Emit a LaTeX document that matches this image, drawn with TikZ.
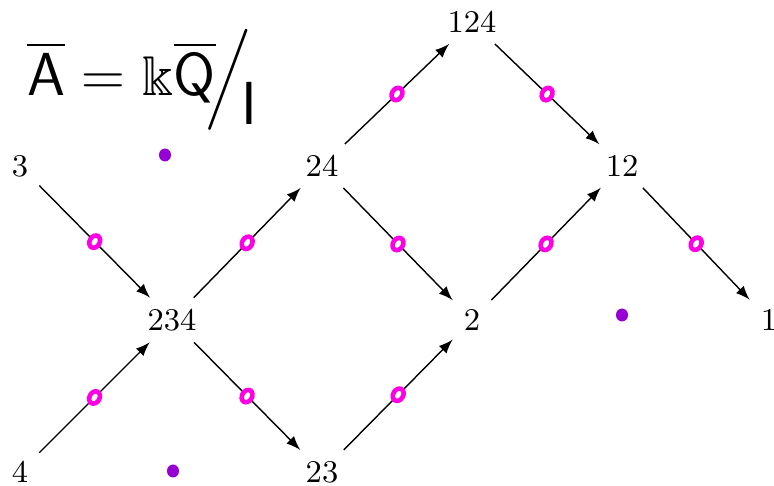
\documentclass[tikz,border=0pt]{standalone}
\usepackage{tikz}
\usetikzlibrary{arrows,shapes}
\usepackage{amsmath,amssymb}
\usepackage{color}
\definecolor{markpink}{RGB}{255,0,230}
\definecolor{dotpurple}{RGB}{150,0,210}

\tikzset{
vtx/.style={font=\small,inner sep=3pt},
hom/.style={->,>=latex,thin},
loopmark/.style={ellipse,draw=markpink,fill=white,line width=1.3pt,inner sep=0pt,
  minimum width=0.1cm,minimum height=0.13cm,rotate=-30},
relmark/.style={ellipse,fill=dotpurple,inner sep=0pt,minimum width=0.12cm,minimum height=0.13cm}
}

\begin{document}
\begin{tikzpicture}
\useasboundingbox (0,0) rectangle (7.74,-4.86);
% the algebra
\node[font=\fontsize{16}{19}\selectfont\sffamily,inner sep=1pt] (alg) at (1.42,-0.80)
 {$\overline{\mathsf A}=\Bbbk\overline{\mathsf Q}\!\Big/\!\raisebox{-1.2ex}{$\mathsf I$}$};
% vertices
\node[vtx] (v3) at (0.20,-1.66) {3};
\node[vtx] (v234) at (1.72,-3.20) {234};
\node[vtx] (v4) at (0.20,-4.72) {4};
\node[vtx] (v24) at (3.22,-1.66) {24};
\node[vtx] (v23) at (3.22,-4.72) {23};
\node[vtx] (v124) at (4.72,-0.22) {124};
\node[vtx] (v2) at (4.72,-3.20) {2};
\node[vtx] (v12) at (6.22,-1.66) {12};
\node[vtx] (v1) at (7.69,-3.20) {1};
% arrows
\draw[hom] (v3) -- node[loopmark]{} (v234);
\draw[hom] (v4) -- node[loopmark]{} (v234);
\draw[hom] (v234) -- node[loopmark]{} (v24);
\draw[hom] (v234) -- node[loopmark]{} (v23);
\draw[hom] (v24) -- node[loopmark]{} (v124);
\draw[hom] (v24) -- node[loopmark]{} (v2);
\draw[hom] (v23) -- node[loopmark]{} (v2);
\draw[hom] (v124) -- node[loopmark]{} (v12);
\draw[hom] (v2) -- node[loopmark]{} (v12);
\draw[hom] (v12) -- node[loopmark]{} (v1);
% relations
\node[relmark] (r1) at (1.65,-1.55) {};
\node[relmark] (r2) at (1.73,-4.71) {};
\node[relmark] (r3) at (6.22,-3.15) {};
\end{tikzpicture}
\end{document}
